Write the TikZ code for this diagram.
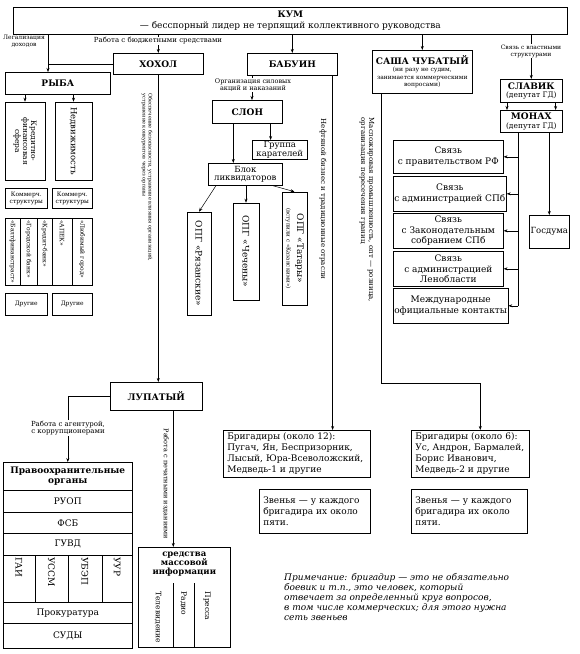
\documentclass[tikz,border=0pt]{standalone}
\usepackage{fontspec}
\setmainfont{DejaVu Serif}
\usetikzlibrary{arrows.meta}

\newcommand\lblfont{\fontsize{6.5}{7}\selectfont}
\newcommand\boxfont{\fontsize{9}{10.5}\selectfont}
\newcommand\headfont{\fontsize{9}{10.5}\selectfont\bfseries}

\tikzset{
  box/.style={draw, line width=0.6pt, inner sep=1pt, align=center, font=\boxfont},
  head/.style={box, font=\headfont},
  vbox/.style={box, rotate=-90},
  bank/.style={vbox, minimum height=#1, text width=63pt, align=left, inner sep=2pt, font=\fontsize{6}{7}\selectfont},
  cell/.style={vbox, minimum height=#1, text width=43pt, align=left, inner sep=2pt},
  lbl/.style={font=\lblfont, align=center, inner sep=0.5pt, fill=white},
  arr/.style={-{Stealth[length=4pt,width=3pt]}, line width=0.5pt},
  ln/.style={line width=0.5pt},
}

\begin{document}
\begin{tikzpicture}[x=1pt, y=-1pt]
    \useasboundingbox (0,0) rectangle (580,654);
    \fill[white] (0,0) rectangle (580,654);

    % КУМ
    \node[box, minimum width=554, minimum height=27, anchor=north west] (kum) at (13,7)
        {{\headfont КУМ}\\— бесспорный лидер не терпящий коллективного руководства};

    % второй уровень
    \node[head, minimum width=90, minimum height=21, anchor=north west] (khokhol) at (113,53) {ХОХОЛ};
    \node[head, minimum width=90, minimum height=22, anchor=north west] (babuin) at (247,53) {БАБУИН};
    \node[box, minimum width=100, minimum height=43, anchor=north west, font=\fontsize{6}{7.5}\selectfont] (sasha) at (372,50)
        {{\headfont САША ЧУБАТЫЙ}\\(ни разу не судим,\\занимается коммерческими\\вопросами)};
    \node[box, minimum width=62, minimum height=23, anchor=north west, font=\fontsize{7.5}{8.5}\selectfont] (slavik) at (500,79)
        {{\headfont СЛАВИК}\\(депутат ГД)};
    \node[box, minimum width=62, minimum height=22, anchor=north west, font=\fontsize{7.5}{8.5}\selectfont] (monakh) at (500,110)
        {{\headfont МОНАХ}\\(депутат ГД)};

    % связи
    \node[box, minimum width=110, minimum height=33, anchor=north west] (svyaz1) at (393,140) {Связь\\с правительством РФ};
    \node[box, minimum width=110, minimum height=35, anchor=north west] (svyaz2) at (393,176) {Связь\\с администрацией СПб};
    \node[box, minimum width=110, minimum height=35, anchor=north west] (svyaz3) at (393,213) {Связь\\с Законодательным\\собранием СПб};
    \node[box, minimum width=110, minimum height=35, anchor=north west] (svyaz4) at (393,251) {Связь\\с администрацией\\Ленобласти};
    \node[box, minimum width=110, minimum height=35, anchor=north west] (svyaz5) at (393,288) {Международные\\официальные контакты};
    \node[box, minimum width=40, minimum height=33, anchor=north west, font=\fontsize{8.5}{9}\selectfont] (gosduma) at (529,215) {Госдума};

    % РЫБА
    \node[head, minimum width=105, minimum height=22, anchor=north west] (ryba) at (5,72) {РЫБА};
    \node[vbox, minimum width=78, minimum height=40, font=\fontsize{7.5}{8}\selectfont] (kredit) at (25,141) {Кредитно-\\финансовая\\сфера};
    \node[vbox, minimum width=78, minimum height=37, font=\fontsize{8.5}{9}\selectfont] (nedv) at (73.5,141) {Недвижимость};
    \node[box, minimum width=42, minimum height=20, anchor=north west, font=\fontsize{6}{7}\selectfont] (kom1) at (5,188) {Коммерч.\\структуры};
    \node[box, minimum width=40, minimum height=20, anchor=north west, font=\fontsize{6}{7}\selectfont] (kom2) at (52,188) {Коммерч.\\структуры};
    \node[bank=15] (bank1) at (12.5,251.5) {«Балтфинанстраст»};
    \node[bank=17] (bank2) at (28.5,251.5) {«Городской банк»};
    \node[bank=15] (bank3) at (44.5,251.5) {«Кредит-банк»};
    \node[bank=20] (bank4) at (62,251.5) {«АПЕК»};
    \node[bank=20] (bank5) at (82,251.5) {«Любимый город»};
    \node[box, minimum width=42, minimum height=22, anchor=north west, font=\fontsize{6}{7}\selectfont] (drug1) at (5,293) {Другие};
    \node[box, minimum width=40, minimum height=22, anchor=north west, font=\fontsize{6}{7}\selectfont] (drug2) at (52,293) {Другие};

    % СЛОН
    \node[head, minimum width=70, minimum height=23, anchor=north west] (slon) at (212,100) {СЛОН};
    \node[box, minimum width=55, minimum height=19, anchor=north west, font=\fontsize{8.5}{8.5}\selectfont] (karat) at (252,140) {Группа\\карателей};
    \node[box, minimum width=74, minimum height=22, anchor=north west, font=\fontsize{8.5}{8.5}\selectfont] (blok) at (208,163) {Блок\\ликвидаторов};
    \node[vbox, minimum width=103, minimum height=24] (ryaz) at (199,263.5) {ОПГ «Рязанские»};
    \node[vbox, minimum width=97, minimum height=26] (chech) at (246,251.5) {ОПГ «Чечены»};
    \node[vbox, minimum width=113, minimum height=25] (tatar) at (294.5,248.5)
        {ОПГ «Татары»\\{\fontsize{5.5}{6}\selectfont (вступили с «Казанскими»)}};

    % ЛУПАТЫЙ
    \node[head, minimum width=92, minimum height=28, anchor=north west] (lupat) at (110,382) {ЛУПАТЫЙ};

    % органы
    \node[head, minimum width=129, minimum height=28, anchor=north west] (organy) at (3,462) {Правоохранительные\\органы};
    \node[box, minimum width=129, minimum height=22, anchor=north west] (ruop) at (3,490) {РУОП};
    \node[box, minimum width=129, minimum height=21, anchor=north west] (fsb) at (3,512) {ФСБ};
    \node[box, minimum width=129, minimum height=22, anchor=north west] (guvd) at (3,533) {ГУВД};
    \node[cell=32] (gai) at (19,578.5) {ГАИ};
    \node[cell=33] (ussm) at (51.5,578.5) {УССМ};
    \node[cell=34] (ubep) at (85,578.5) {УБЭП};
    \node[cell=30] (uur) at (117,578.5) {УУР};
    \node[box, minimum width=129, minimum height=21, anchor=north west] (prok) at (3,602) {Прокуратура};
    \node[box, minimum width=129, minimum height=25, anchor=north west] (sudy) at (3,623) {СУДЫ};

    % СМИ
    \node[box, minimum width=92, minimum height=100, anchor=north west] (smi) at (138,547) {};
    \node[font=\fontsize{8.5}{9}\selectfont\bfseries, align=center, anchor=north, inner sep=2pt] (smihead) at ([yshift=-3pt]smi.north) {средства\\массовой\\информации};
    \draw[ln] (173,583) -- (173,647);
    \draw[ln] (194,583) -- (194,647);
    \node[rotate=-90, anchor=west, font=\fontsize{7.5}{8}\selectfont] (tv) at (158,588) {Телевидение};
    \node[rotate=-90, anchor=west, font=\fontsize{7.5}{8}\selectfont] (radio) at (183.5,588) {Радио};
    \node[rotate=-90, anchor=west, font=\fontsize{7.5}{8}\selectfont] (pressa) at (207,588) {Пресса};

    % бригадиры
    \node[box, text width=139pt, minimum height=47, anchor=north west, align=left, inner xsep=4pt, inner ysep=2pt, font=\fontsize{9}{11}\selectfont] (brig1) at (223,430)
        {Бригадиры (около 12):\\Пугач, Ян, Беспризорник,\\Лысый, Юра-Всеволожский,\\Медведь-1 и другие};
    \node[box, text width=103pt, minimum height=44, anchor=north west, align=left, inner xsep=4pt, inner ysep=2pt, font=\fontsize{9}{11}\selectfont] (zven1) at (259,489)
        {Звенья — у каждого\\бригадира их около\\пяти.};
    \node[box, text width=110pt, minimum height=47, anchor=north west, align=left, inner xsep=4pt, inner ysep=2pt, font=\fontsize{9}{11}\selectfont] (brig2) at (411,430)
        {Бригадиры (около 6):\\Ус, Андрон, Бармалей,\\Борис Иванович,\\Медведь-2 и другие};
    \node[box, text width=108pt, minimum height=44, anchor=north west, align=left, inner xsep=4pt, inner ysep=2pt, font=\fontsize{9}{11}\selectfont] (zven2) at (411,489)
        {Звенья — у каждого\\бригадира их около\\пяти.};

    % примечание
    \node[anchor=north west, align=left, inner sep=0pt, font=\fontsize{9}{10}\selectfont\itshape] (note) at (284,573)
        {Примечание: бригадир — это не обязательно\\боевик и т.п., это человек, который\\отвечает за определенный круг вопросов,\\в том числе коммерческих; для этого нужна\\сеть звеньев};

    % от КУМа
    \coordinate (legal) at (48,62);
    \draw[arr] (kum.south -| legal) -- (ryba.north -| legal);
    \draw[ln] (khokhol.west) -- (khokhol.west -| legal);
    \draw[arr] (kum.south -| khokhol.north) -- (khokhol.north);
    \draw[arr] (kum.south -| babuin.north) -- (babuin.north);
    \draw[arr] (kum.south -| sasha.north) -- (sasha.north);
    \draw[arr] (kum.south -| slavik.north) -- (slavik.north);
    \node[lbl, font=\fontsize{6}{6.5}\selectfont] (legaltxt) at (24,41) {Легализация\\доходов};
    \node[lbl, font=\fontsize{7}{7.5}\selectfont] (budtxt) at (158,41) {Работа с бюджетными средствами};
    \node[lbl, font=\fontsize{6}{7}\selectfont] (vlasttxt) at (531,51) {Связь с властными\\структурами};

    % РЫБА
    \draw[arr] (ryba.south -| kredit.west) -- (kredit.west);
    \draw[arr] (ryba.south -| nedv.west) -- (nedv.west);

    % ХОХОЛ
    \draw[arr] (khokhol.south) -- (khokhol.south |- lupat.north);
    \node[rotate=-90, anchor=west, align=left, inner sep=0.5pt, font=\fontsize{5}{6}\selectfont] (khtxt) at (147,93)
        {Обеспечение безопасности, устранение влияния организаций,\\устранение конкурентов через органы};

    % БАБУИН
    \draw[arr] ([xshift=5pt]babuin.south west) -- ([xshift=5pt]babuin.south west |- slon.north);
    \node[lbl] (silatxt) at (253,85) {Организация силовых\\акций и наказаний};
    \draw[arr] ([xshift=-12pt]slon.south east) -- ([xshift=-12pt]slon.south east |- karat.north);
    \draw[arr] ([xshift=-14pt]slon.south) -- ([xshift=-14pt]slon.south |- blok.north);
    \draw[arr] ([xshift=8pt]blok.south west) -- (ryaz.west);
    \draw[arr] (blok.south -| chech.west) -- (chech.west);
    \draw[arr] ([xshift=-10pt]blok.south east) -- (tatar.west);
    \draw[arr] ([xshift=-5pt]babuin.south east) -- ([xshift=-5pt]babuin.south east |- brig1.north);
    \node[rotate=-90, inner sep=0.5pt, font=\fontsize{7}{8}\selectfont] (nefttxt) at (323,199) {Нефтяной бизнес и традиционные отрасли};

    % САША
    \coordinate (sbend) at (381,383);
    \draw[arr] (sasha.south -| sbend) -- (sbend) -| ([xshift=10pt]brig2.north);
    \node[rotate=-90, anchor=west, align=left, inner sep=0.5pt, font=\fontsize{7}{8}\selectfont] (maslotxt) at (367,117)
        {Масложировая промышленность, опт — розница,\\организация пересечения границ};

    % СЛАВИК и МОНАХ
    \draw[arr] ([xshift=7pt]slavik.south west) -- ([xshift=7pt]monakh.north west);
    \draw[arr] ([xshift=-7pt]slavik.south east) -- ([xshift=-7pt]monakh.north east);
    \coordinate (bus) at (518,0);
    \draw[ln] (monakh.south -| bus) -- (svyaz5.east -| bus);
    \foreach \i in {1,...,5}
        \draw[arr] (svyaz\i.east -| bus) -- (svyaz\i.east);
    \draw[arr] (monakh.south -| gosduma.north) -- (gosduma.north);

    % ЛУПАТЫЙ
    \draw[arr] (lupat.west) -| (organy.north);
    \node[lbl, font=\fontsize{7}{7.5}\selectfont] (agenttxt) at (68,428) {Работа с агентурой,\\с коррупционерами};
    \draw[arr] ([xshift=-11pt]smi.north |- lupat.south) -- ([xshift=-11pt]smi.north);
    \node[rotate=-90, anchor=west, inner sep=0.5pt, font=\fontsize{6.5}{7}\selectfont] (pechtxt) at (166,428) {Работа с печатными изданиями};
\end{tikzpicture}
\end{document}
